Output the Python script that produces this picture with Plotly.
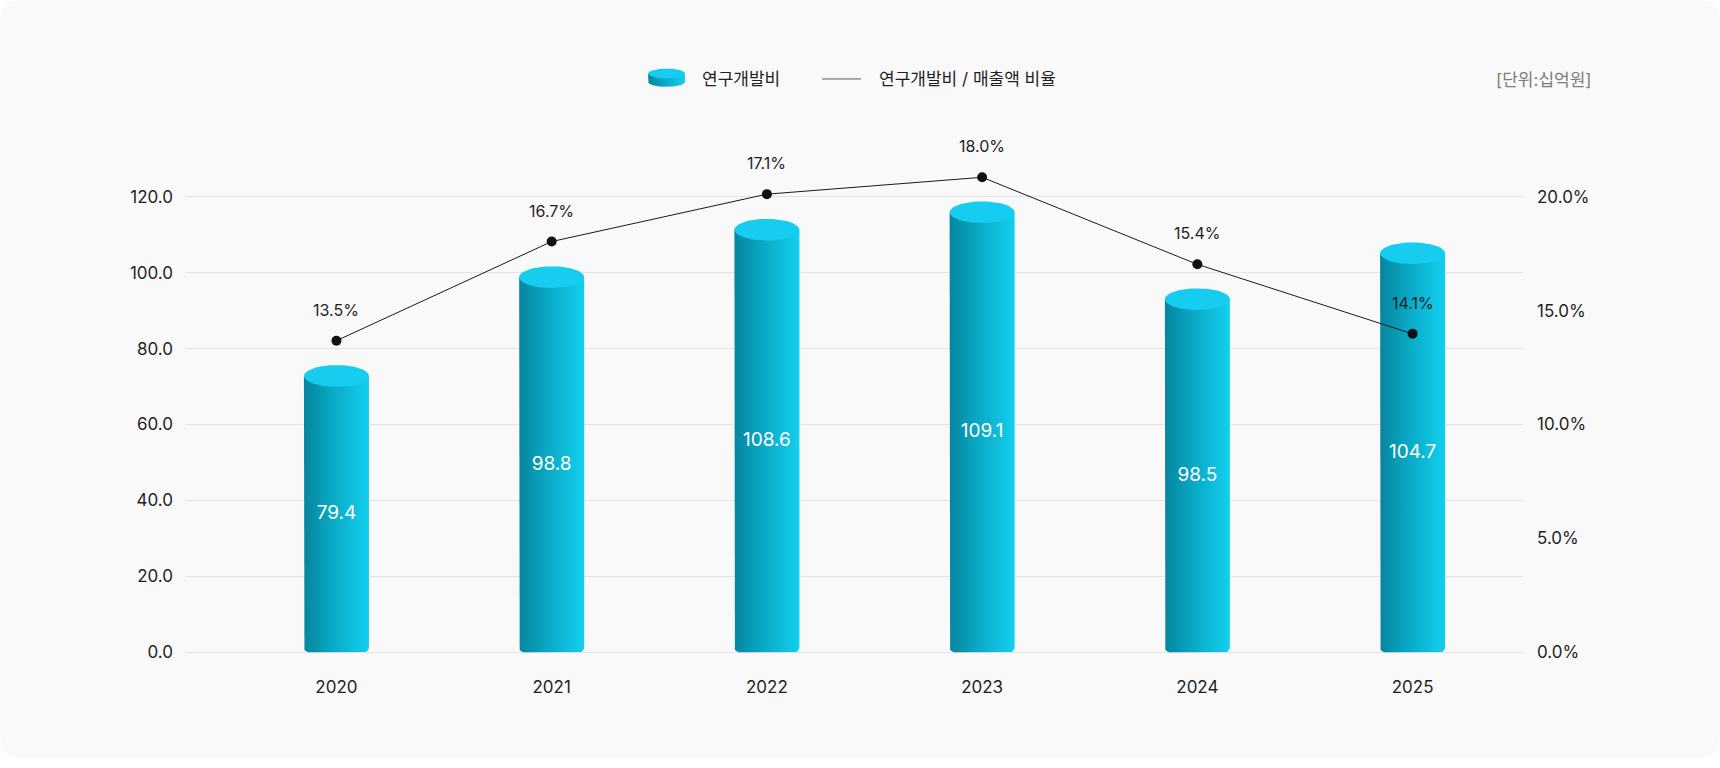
import numpy as np
import plotly.graph_objects as go

# ---------------- data ----------------
years = ["2020", "2021", "2022", "2023", "2024", "2025"]
rd_heights = [72.8, 98.8, 111.3, 115.9, 93.0, 105.1]          # bar heights as drawn (십억원)
rd_labels = ["79.4", "98.8", "108.6", "109.1", "98.5", "104.7"]  # printed values
ratio_points = [13.68, 18.03, 20.11, 20.85, 17.03, 13.98]      # line points as drawn (%)
ratio_labels = ["13.5%", "16.7%", "17.1%", "18.0%", "15.4%", "14.1%"]
left_ticks = [0, 20, 40, 60, 80, 100, 120]
right_ticks = [0, 5, 10, 15, 20]

legend_bar = "연구개발비"
legend_line = "연구개발비 / 매출액 비율"
unit_text = "[단위:십억원]"

# ---------------- layout geometry ----------------
W, H = 1720, 768
PX_L, PX_R, PY_T, PY_B = 186, 1523, 130, 661
X_RANGE = [-0.699, 5.513]
Y_RANGE = [0, 138]
Y2_RANGE = [0, 23]
unit_x = (PX_R - PX_L) / (X_RANGE[1] - X_RANGE[0])
unit_y = (PY_B - PY_T) / (Y_RANGE[1] - Y_RANGE[0])

BAR_W_PX = 65
CAP_RY_PX = 11
CORNER_PX = 5

FONT = "Inter, 'Noto Sans CJK KR', sans-serif"
TXT = "#1f1f1f"
BODY_SCALE = [[0, "#07859f"], [0.45, "#09aac6"], [1, "#13cfef"]]
CAP_COLOR = "#17cdef"

fig = go.Figure()


def body_poly(cx, h, hw):
    rcx = CORNER_PX / unit_x
    rcy = CORNER_PX / unit_y
    xs, ys = [cx - hw], [h]
    xs.append(cx - hw); ys.append(rcy)
    t = np.linspace(np.pi, 1.5 * np.pi, 8)
    xs += list(cx - hw + rcx + rcx * np.cos(t)); ys += list(rcy + rcy * np.sin(t))
    t = np.linspace(1.5 * np.pi, 2 * np.pi, 8)
    xs += list(cx + hw - rcx + rcx * np.cos(t)); ys += list(rcy + rcy * np.sin(t))
    xs.append(cx + hw); ys.append(h)
    xs.append(cx - hw); ys.append(h)
    return xs, ys


def ellipse(cx, cy, rx, ry, n=90):
    t = np.linspace(0, 2 * np.pi, n)
    return list(cx + rx * np.cos(t)), list(cy + ry * np.sin(t))


hw = BAR_W_PX / 2 / unit_x
ry = CAP_RY_PX / unit_y
for i, h in enumerate(rd_heights):
    bx, by = body_poly(i, h, hw)
    fig.add_trace(go.Scatter(
        x=bx, y=by, mode="lines", fill="toself", line=dict(width=0),
        fillgradient=dict(type="horizontal", colorscale=BODY_SCALE),
        hoverinfo="skip", showlegend=False))
    ex, ey = ellipse(i, h, hw, ry)
    fig.add_trace(go.Scatter(
        x=ex, y=ey, mode="lines", fill="toself", line=dict(width=0),
        fillcolor=CAP_COLOR, hoverinfo="skip", showlegend=False))

# labels inside bars
fig.add_trace(go.Scatter(
    x=list(range(len(years))), y=[h / 2 for h in rd_heights], mode="text",
    text=rd_labels, textfont=dict(family=FONT, size=19, color="white"),
    hoverinfo="skip", showlegend=False))

# ratio line
fig.add_trace(go.Scatter(
    x=list(range(len(years))), y=ratio_points, yaxis="y2", mode="lines+markers",
    line=dict(color="#1a1a1a", width=1), marker=dict(size=10, color="#111111"),
    cliponaxis=False, showlegend=False, hoverinfo="skip"))

annotations = []
for i, (v, lab) in enumerate(zip(ratio_points, ratio_labels)):
    annotations.append(dict(x=i, y=v, xref="x", yref="y2", text=lab, showarrow=False,
                            yshift=31, font=dict(family=FONT, size=16, color=TXT)))

# legend icon (small cylinder) on its own hidden axes in pixel units
icx, ihw = 666.5, 18.5
top_y, bot_y, iry = 768 - 74.5, 768 - 83, 5
t = np.linspace(0, np.pi, 40)
lx = [icx - ihw, icx - ihw] + list(icx - ihw * np.cos(t)) + [icx + ihw, icx - ihw]
ly = [top_y, bot_y] + list(bot_y - iry * np.sin(t)) + [top_y, top_y]
fig.add_trace(go.Scatter(x=lx, y=ly, xaxis="x3", yaxis="y3", mode="lines", fill="toself",
                         line=dict(width=0), fillgradient=dict(type="horizontal", colorscale=BODY_SCALE),
                         hoverinfo="skip", showlegend=False))
ex, ey = ellipse(icx, top_y, ihw, iry)
fig.add_trace(go.Scatter(x=ex, y=ey, xaxis="x3", yaxis="y3", mode="lines", fill="toself",
                         line=dict(width=0), fillcolor=CAP_COLOR, hoverinfo="skip", showlegend=False))

annotations += [
    dict(x=700 / W, y=1 - 80 / H, xref="paper", yref="paper", text=legend_bar, showarrow=False,
         xanchor="left", yanchor="middle", font=dict(family=FONT, size=17, color=TXT)),
    dict(x=877 / W, y=1 - 80 / H, xref="paper", yref="paper", text=legend_line, showarrow=False,
         xanchor="left", yanchor="middle", font=dict(family=FONT, size=17, color=TXT)),
    dict(x=1594 / W, y=1 - 81 / H, xref="paper", yref="paper", text=unit_text, showarrow=False,
         xanchor="right", yanchor="middle", font=dict(family=FONT, size=17, color="#7d7d7d")),
]

# card background with rounded corners
r = 22
rx, rY = r / W, r / H
card = (f"M {rx},1 L {1-rx},1 Q 1,1 1,{1-rY} L 1,{rY} Q 1,0 {1-rx},0 "
        f"L {rx},0 Q 0,0 0,{rY} L 0,{1-rY} Q 0,1 {rx},1 Z")
shapes = [
    dict(type="path", path=card, xref="paper", yref="paper", fillcolor="#f9f9fa",
         line=dict(width=0), layer="below"),
    dict(type="line", x0=822 / W, x1=861 / W, y0=1 - 80 / H, y1=1 - 80 / H, xref="paper",
         yref="paper", line=dict(color="#555555", width=1)),
]

fig.update_layout(
    width=W, height=H, autosize=False,
    margin=dict(l=0, r=0, t=0, b=0),
    paper_bgcolor="white", plot_bgcolor="rgba(0,0,0,0)",
    font=dict(family=FONT, color=TXT),
    showlegend=False,
    xaxis=dict(domain=[PX_L / W, PX_R / W], range=X_RANGE, tickmode="array",
               tickvals=list(range(len(years))), ticktext=years, showgrid=False,
               zeroline=False, showline=False, ticks="", ticklabelstandoff=23,
               tickfont=dict(family=FONT, size=17, color=TXT), fixedrange=True),
    yaxis=dict(domain=[1 - PY_B / H, 1 - PY_T / H], range=Y_RANGE, tickmode="array",
               tickvals=left_ticks, ticktext=[f"{v:.1f}" for v in left_ticks],
               showgrid=True, gridcolor="#e3e3e3", gridwidth=1, zeroline=True,
               zerolinecolor="#e3e3e3", zerolinewidth=1, showline=False, ticks="",
               ticklabelstandoff=12, tickfont=dict(family=FONT, size=17, color=TXT),
               fixedrange=True),
    yaxis2=dict(overlaying="y", side="right", anchor="x", range=Y2_RANGE, tickmode="array",
                tickvals=right_ticks, ticktext=[f"{v:.1f}%" for v in right_ticks],
                showgrid=False, zeroline=False, showline=False, ticks="",
                ticklabelstandoff=13, tickfont=dict(family=FONT, size=17, color=TXT),
                fixedrange=True),
    xaxis3=dict(domain=[640 / W, 695 / W], range=[640, 695], visible=False, anchor="y3",
                fixedrange=True),
    yaxis3=dict(domain=[1 - 95 / H, 1 - 62 / H], range=[768 - 95, 768 - 62], visible=False,
                anchor="x3", fixedrange=True),
    annotations=annotations,
    shapes=shapes,
)

fig.write_html("out.html")
